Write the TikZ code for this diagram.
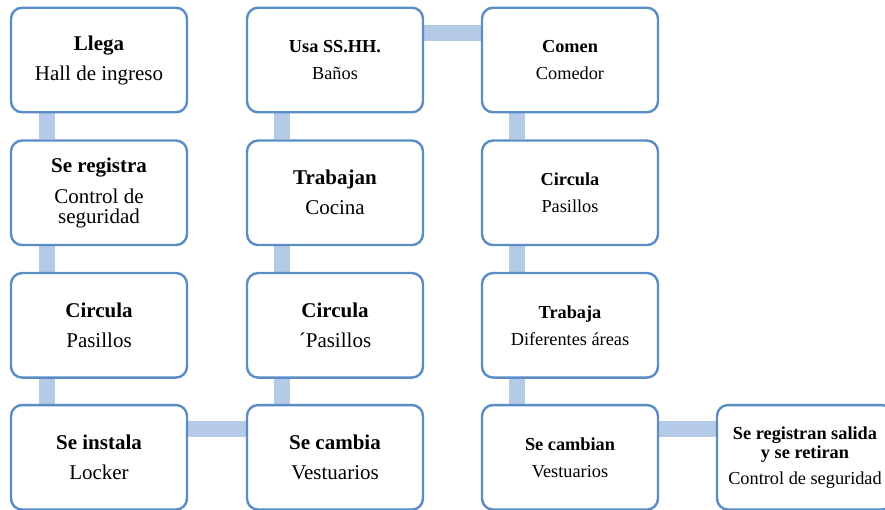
\documentclass[tikz,border=0pt]{standalone}
\usepackage{fontspec}
\setmainfont{Liberation Serif}
\usetikzlibrary{calc,backgrounds}
\definecolor{boxline}{HTML}{5A8DC5}
\definecolor{barfill}{HTML}{B5CAE7}
\tikzset{
  box/.style={draw=boxline, line width=2.4pt, fill=white, rounded corners=11pt,
    minimum width=176pt, minimum height=104.5pt, align=center, inner sep=0pt},
  big/.style={font=\fontsize{21}{20}\selectfont, execute at begin node={\rule{0pt}{17.5pt}}},
  small/.style={font=\fontsize{18.3}{18}\selectfont, execute at begin node={\rule{0pt}{15.5pt}}},
  bar/.style={draw=barfill, line width=16pt}
}
\begin{document}
\begin{tikzpicture}[x=1pt,y=-1pt]
\useasboundingbox (0,0) rectangle (885,510);
\begin{scope}
\clip (0,0) rectangle (885,510);
% column 1
\node[box,big] (a1) at (99,60) {\textbf{Llega}\\[10pt]Hall de ingreso};
\node[box,big] (a2) at (99,192.8) {\textbf{Se registra}\\[11pt]Control de\\seguridad};
\node[box,big] (a3) at (99,325.3) {\textbf{Circula}\\[10pt]Pasillos};
\node[box,big] (a4) at (99,457.3) {\textbf{Se instala}\\[10pt]Locker};
% column 2
\node[box,small] (b1) at (335,60) {\textbf{Usa SS.HH.}\\[9pt]Baños};
\node[box,big] (b2) at (335,192.8) {\textbf{Trabajan}\\[10pt]Cocina};
\node[box,big] (b3) at (335,325.3) {\textbf{Circula}\\[10pt]´Pasillos};
\node[box,big] (b4) at (335,457.3) {\textbf{Se cambia}\\[10pt]Vestuarios};
% column 3
\node[box,small] (c1) at (570,60) {\textbf{Comen}\\[9pt]Comedor};
\node[box,small] (c2) at (570,192.8) {\textbf{Circula}\\[9pt]Pasillos};
\node[box,small] (c3) at (570,325.3) {\textbf{Trabaja}\\[9pt]Diferentes áreas};
\node[box,small] (c4) at (570,457.3) {\textbf{Se cambian}\\[9pt]Vestuarios};
% column 4
\node[box,small,font=\fontsize{18.3}{19}\selectfont] (d4) at (805,457.3) {\textbf{Se registran salida}\\\textbf{y se retiran}\\[7pt]Control de seguridad};
\begin{scope}[on background layer]
\draw[bar] ($(a1.south west)+(37,0)$) -- ($(a2.north west)+(37,0)$);
\draw[bar] ($(a2.south west)+(37,0)$) -- ($(a3.north west)+(37,0)$);
\draw[bar] ($(a3.south west)+(37,0)$) -- ($(a4.north west)+(37,0)$);
\draw[bar] ($(a4.north east)+(0,25.5)$) -- ($(b4.north west)+(0,25.5)$);
\draw[bar] ($(b4.north west)+(36.5,0)$) -- ($(b3.south west)+(36.5,0)$);
\draw[bar] ($(b3.north west)+(36.5,0)$) -- ($(b2.south west)+(36.5,0)$);
\draw[bar] ($(b2.north west)+(36.5,0)$) -- ($(b1.south west)+(36.5,0)$);
\draw[bar] ($(b1.north east)+(0,26)$) -- ($(c1.north west)+(0,26)$);
\draw[bar] ($(c1.south west)+(36.5,0)$) -- ($(c2.north west)+(36.5,0)$);
\draw[bar] ($(c2.south west)+(36.5,0)$) -- ($(c3.north west)+(36.5,0)$);
\draw[bar] ($(c3.south west)+(36.5,0)$) -- ($(c4.north west)+(36.5,0)$);
\draw[bar] ($(c4.north east)+(0,25.5)$) -- ($(d4.north west)+(0,25.5)$);
\end{scope}
\end{scope}
\end{tikzpicture}
\end{document}
